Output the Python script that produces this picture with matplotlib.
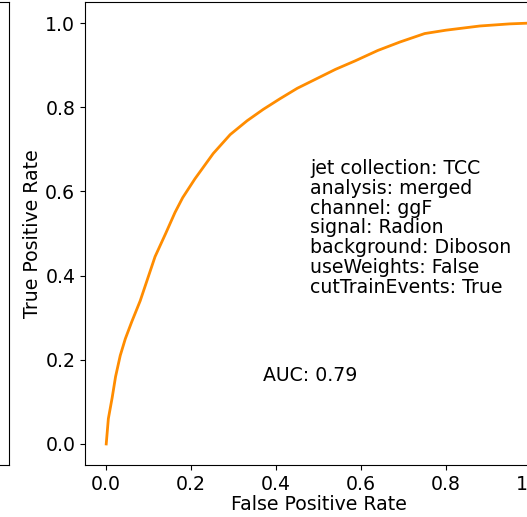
import numpy as np
import matplotlib
matplotlib.use("Agg")
import matplotlib.pyplot as plt

# ROC curve values
fpr = [0.0, 0.005, 0.014, 0.022, 0.033, 0.045, 0.06, 0.08, 0.10, 0.115,
       0.14, 0.162, 0.18, 0.209, 0.252, 0.292, 0.332, 0.37, 0.409, 0.45,
       0.49, 0.54, 0.586, 0.64, 0.692, 0.75, 0.80, 0.88, 0.95, 1.0]
tpr = [0.0, 0.06, 0.11, 0.16, 0.21, 0.25, 0.29, 0.34, 0.40, 0.445,
       0.50, 0.55, 0.585, 0.63, 0.69, 0.735, 0.768, 0.795, 0.82, 0.845,
       0.865, 0.89, 0.91, 0.935, 0.955, 0.975, 0.983, 0.993, 0.998, 1.0]

info_lines = ["jet collection: TCC", "analysis: merged", "channel: ggF",
              "signal: Radion", "background: Diboson", "useWeights: False",
              "cutTrainEvents: True"]
auc_label = "AUC: 0.79"

plt.rcParams['font.size'] = 13.6

W, H = 527, 517
fig = plt.figure(figsize=(W / 100, H / 100), dpi=100)

# main axes (extends past the right edge, like the cropped original)
ax_w = 467
ax = fig.add_axes([85 / W, 52 / H, ax_w / W, 463 / H])
ax.plot(fpr, tpr, color='darkorange', lw=2)
ax.set_xlim(-0.05, 1.05)
ax.set_ylim(-0.05, 1.05)
ax.set_xticks([0.0, 0.2, 0.4, 0.6, 0.8, 1.0])
ax.set_yticks([0.0, 0.2, 0.4, 0.6, 0.8, 1.0])
ax.set_xlabel("False Positive Rate", labelpad=1)
ax.set_ylabel("True Positive Rate", labelpad=2)
ax.text(0.48, 0.35, "\n".join(info_lines), va='bottom', ha='left',
        linespacing=1.05)
ax.text(0.37, 0.14, auc_label, va='bottom', ha='left')

# neighbouring panel, mostly cut off on the left
ax_l = fig.add_axes([(8.5 - ax_w) / W, 52 / H, ax_w / W, 463 / H])
ax_l.set_xlim(-0.05, 1.05)
ax_l.set_ylim(-0.05, 1.05)
ax_l.set_xticks([0.0, 0.2, 0.4, 0.6, 0.8, 1.0])
ax_l.set_yticks([])

fig.savefig("out.png", dpi=100)
